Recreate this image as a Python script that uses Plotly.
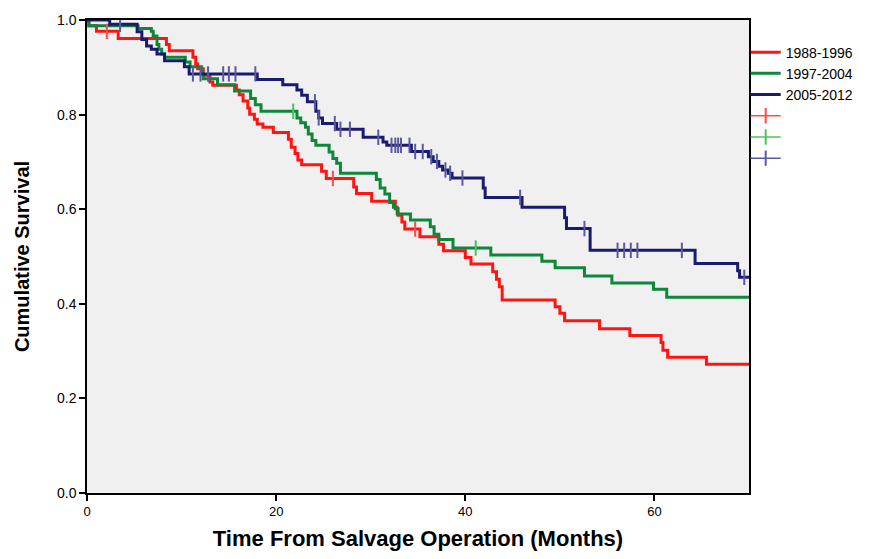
import numpy as np
import plotly.graph_objects as go

# ---------------- data ----------------
groups = ["1988-1996", "1997-2004", "2005-2012"]

red_t = [0, 0.2, 1.0, 3.3, 8.4, 8.7, 11.2, 11.5, 11.7, 12.3, 13.0, 13.3, 15.8, 16.1, 16.5,
         17.0, 17.2, 17.7, 18.0, 18.6, 19.7, 21.3, 21.6, 22.0, 22.3, 22.7, 24.8, 25.3,
         28.2, 28.5, 30.1, 32.6, 32.9, 33.3, 33.6, 35.2, 37.2, 37.7, 40.0, 40.6, 42.9,
         43.3, 43.6, 43.9, 49.5, 50.0, 50.5, 54.2, 57.4, 60.7, 60.9, 61.4, 65.5, 70.0]
red_s = [1.0, 0.988, 0.976, 0.961, 0.948, 0.935, 0.921, 0.907, 0.897, 0.883, 0.869, 0.862,
         0.852, 0.842, 0.829, 0.814, 0.801, 0.790, 0.780, 0.773, 0.762, 0.748, 0.731, 0.718,
         0.704, 0.694, 0.680, 0.665, 0.647, 0.633, 0.617, 0.601, 0.587, 0.573, 0.558, 0.542,
         0.526, 0.512, 0.498, 0.484, 0.468, 0.452, 0.436, 0.408, 0.394, 0.380, 0.364, 0.347,
         0.333, 0.318, 0.302, 0.287, 0.272, 0.272]
red_cens = [2.1, 26.0, 34.7]

green_t = [0, 0.2, 5.4, 6.8, 7.0, 7.4, 7.6, 7.9, 8.2, 10.4, 10.9, 12.1, 12.3, 13.8, 15.6,
           17.3, 17.8, 18.4, 22.2, 22.6, 23.1, 23.4, 23.8, 24.2, 25.6, 26.0, 26.4, 26.8,
           30.6, 31.0, 31.5, 32.0, 32.4, 32.8, 34.2, 36.3, 36.7, 37.2, 38.7, 42.7, 48.1,
           49.5, 52.6, 55.5, 59.9, 61.3, 70.0]
green_s = [1.0, 0.988, 0.982, 0.976, 0.966, 0.948, 0.938, 0.928, 0.921, 0.911, 0.901, 0.887,
           0.876, 0.863, 0.850, 0.834, 0.821, 0.807, 0.793, 0.783, 0.773, 0.759, 0.745, 0.735,
           0.721, 0.707, 0.697, 0.676, 0.663, 0.645, 0.632, 0.614, 0.604, 0.590, 0.577, 0.563,
           0.547, 0.536, 0.518, 0.503, 0.490, 0.476, 0.459, 0.444, 0.431, 0.414, 0.414]
green_cens = [21.8, 41.1]

blue_t = [0, 2.4, 5.3, 5.8, 6.3, 6.8, 7.4, 8.2, 10.3, 10.8, 18.0, 20.7, 22.2, 22.7, 23.3,
          24.2, 24.5, 24.9, 26.4, 29.2, 31.3, 31.7, 34.3, 36.1, 36.6, 37.2, 37.6, 38.2,
          38.6, 41.9, 42.1, 46.0, 50.5, 50.7, 53.2, 64.3, 68.8, 69.0, 70.0]
blue_s = [1.0, 0.991, 0.975, 0.959, 0.945, 0.938, 0.928, 0.914, 0.901, 0.886, 0.874, 0.863,
          0.852, 0.841, 0.827, 0.807, 0.793, 0.781, 0.769, 0.752, 0.742, 0.735, 0.722, 0.711,
          0.701, 0.691, 0.683, 0.676, 0.666, 0.645, 0.625, 0.604, 0.582, 0.559, 0.513, 0.485,
          0.470, 0.456, 0.456]
blue_cens = [3.5, 11.2, 12.0, 12.8, 14.4, 15.0, 15.7, 17.8, 24.1, 24.5, 26.2, 26.8, 27.8,
             30.8, 32.2, 32.6, 32.9, 33.2, 34.1, 34.7, 35.5, 36.4, 37.0, 37.9, 38.4, 39.7,
             45.8, 52.6, 56.1, 56.8, 57.5, 58.2, 62.9, 69.5]

x_ticks = [0, 20, 40, 60]
y_ticks = [0.0, 0.2, 0.4, 0.6, 0.8, 1.0]

line_colors = ["#FF1414", "#0F873A", "#1A1A70"]
cens_colors = ["#FF4A4A", "#4CC45A", "#5A5AA0"]

series = [(red_t, red_s, red_cens), (green_t, green_s, green_cens), (blue_t, blue_s, blue_cens)]


def step_value(times, surv, t):
    idx = np.searchsorted(np.asarray(times), t, side="right") - 1
    return np.asarray(surv)[idx]


fig = go.Figure()
for name, (t, s, c), lc in zip(groups, series, line_colors):
    fig.add_trace(go.Scatter(x=t, y=s, mode="lines", line=dict(color=lc, width=3, shape="hv"),
                             name=name, showlegend=True))

for (t, s, c), cc in zip(series, cens_colors):
    cy = [float(step_value(t, s, ct)) for ct in c]
    fig.add_trace(go.Scatter(x=c, y=cy, mode="markers",
                             marker=dict(symbol="line-ns", size=11,
                                         line=dict(color=cc, width=2)),
                             showlegend=False, hoverinfo="skip"))

# legend entries for censored marks
for cc in cens_colors:
    fig.add_trace(go.Scatter(x=[None], y=[None], mode="lines+markers", name=" ",
                             line=dict(color=cc, width=1.5),
                             marker=dict(symbol="line-ns", size=11, line=dict(color=cc, width=2)),
                             showlegend=True))

axis_font = dict(family="Liberation Sans, Arial, sans-serif", size=13, color="black")
ytick_font = dict(family="Liberation Sans, Arial, sans-serif", size=14, color="black")
title_font_x = dict(family="Liberation Sans, Arial, sans-serif", size=22, color="black")
title_font_y = dict(family="Liberation Sans, Arial, sans-serif", size=20, color="black")

fig.update_layout(
    width=877, height=559,
    margin=dict(l=87, r=128, t=13, b=61),
    paper_bgcolor="white", plot_bgcolor="#F0F0F0",
    font=axis_font,
    showlegend=True,
    legend=dict(x=0.995, y=0.965, xanchor="left", yanchor="top",
                font=dict(family="Liberation Sans, Arial, sans-serif", size=14, color="black"),
                bgcolor="rgba(0,0,0,0)", itemwidth=30, tracegroupgap=0),
    xaxis=dict(range=[0, 70], tickvals=x_ticks, ticks="outside", ticklen=6, tickwidth=1.5,
               tickcolor="black", showline=True, linecolor="black", linewidth=1.5, mirror=True,
               showgrid=False, zeroline=False, tickfont=axis_font,
               title=dict(text="<b>Time From Salvage Operation (Months)</b>", font=title_font_x,
                          standoff=12)),
    yaxis=dict(range=[0, 1], tickvals=y_ticks, tickformat=".1f", ticks="outside", ticklen=6,
               tickwidth=1.5, tickcolor="black", showline=True, linecolor="black",
               linewidth=1.5, mirror=True, showgrid=False, zeroline=False, tickfont=ytick_font,
               title=dict(text="<b>Cumulative Survival</b>", font=title_font_y, standoff=22)),
)

fig.write_html("out.html")
